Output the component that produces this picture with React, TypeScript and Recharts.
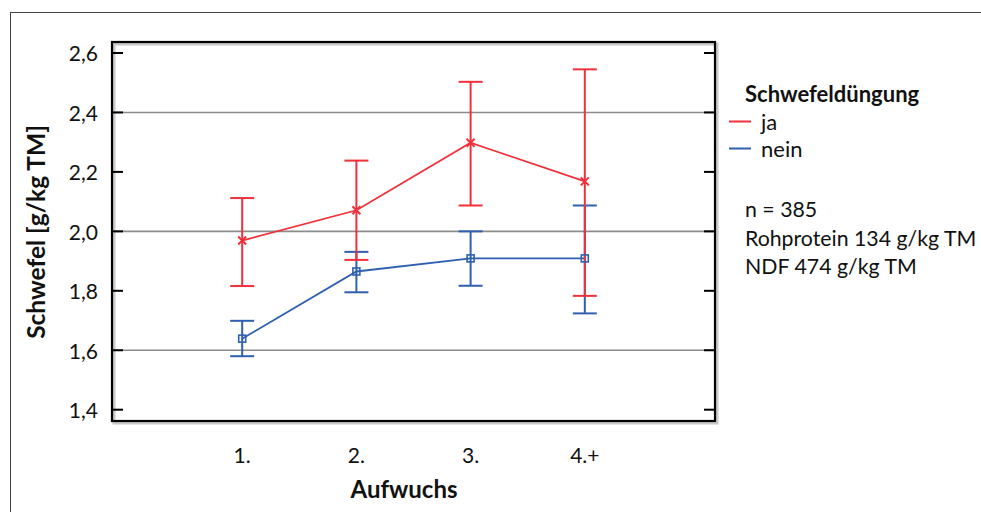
import { LineChart, Line, XAxis, YAxis, ErrorBar, ReferenceLine, ReferenceArea } from "recharts";

const categories = ["1.", "2.", "3.", "4.+"];
const jaMean = [1.969, 2.071, 2.298, 2.168];
const jaLow = [1.816, 1.904, 2.087, 1.783];
const jaHigh = [2.112, 2.238, 2.503, 2.545];
const neinMean = [1.639, 1.865, 1.909, 1.909];
const neinLow = [1.58, 1.795, 1.817, 1.724];
const neinHigh = [1.699, 1.931, 2.0, 2.087];
const yTicks = [1.4, 1.6, 1.8, 2.0, 2.2, 2.4, 2.6];
const gridValues = [1.6, 2.0, 2.4];
const infoLines = ["n = 385", "Rohprotein 134 g/kg TM", "NDF 474 g/kg TM"];

const Y_DOMAIN: [number, number] = [1.362, 2.637];
const X_DOMAIN: [number, number] = [-0.14, 5.14];
const RED = "#f0303a";
const BLUE = "#2f60b0";
const FONT = "Lato, 'Open Sans', sans-serif";

const data = categories.map((c, i) => ({
  x: i + 1,
  ja: jaMean[i],
  jaErr: [jaMean[i] - jaLow[i], jaHigh[i] - jaMean[i]],
  nein: neinMean[i],
  neinErr: [neinMean[i] - neinLow[i], neinHigh[i] - neinMean[i]],
}));

const fmt = (v: number) => v.toFixed(1).replace(".", ",");

// ticks point inward, labels sit 14px left of the frame
function LeftTick({ x, y, payload }: any) {
  return (
    <g>
      <line x1={x + 14} x2={x + 25} y1={y} y2={y} stroke="#000" strokeWidth={2} />
      <text x={x} y={y} textAnchor="end" dominantBaseline="central" fontSize={21} fontFamily={FONT} fill="#111">
        {fmt(payload.value)}
      </text>
    </g>
  );
}

function RightTick({ x, y }: any) {
  return <line x1={x} x2={x - 11} y1={y} y2={y} stroke="#000" strokeWidth={2} />;
}

function XTick({ x, y, payload }: any) {
  return (
    <text x={x} y={y} textAnchor="middle" dominantBaseline="central" fontSize={21} fontFamily={FONT} fill="#111">
      {categories[payload.value - 1]}
    </text>
  );
}

function CrossDot({ cx, cy }: any) {
  const s = 4;
  return (
    <path
      d={`M${cx - s},${cy - s}L${cx + s},${cy + s}M${cx - s},${cy + s}L${cx + s},${cy - s}`}
      stroke={RED}
      strokeWidth={2}
    />
  );
}

function SquareDot({ cx, cy }: any) {
  return <rect x={cx - 3.5} y={cy - 3.5} width={7} height={7} fill="none" stroke={BLUE} strokeWidth={1.6} />;
}

function Frame({ x, y, width, height }: any) {
  return (
    <g>
      <rect x={x + 2} y={y + 2} width={width} height={height} fill="none" stroke="#c8c8c8" strokeWidth={3} />
      <rect x={x} y={y} width={width} height={height} fill="none" stroke="#000" strokeWidth={2.2} />
    </g>
  );
}

export default function App() {
  return (
    <div style={{ position: "absolute", left: 0, top: 0, width: 981, height: 512, background: "#fff", fontFamily: FONT }}>
      <div style={{ position: "absolute", left: 10, top: 12, right: 0, bottom: 0, borderTop: "1.5px solid #444", borderLeft: "1.5px solid #444" }} />
      <LineChart width={981} height={512} data={data} margin={{ top: 42, right: 265, bottom: 90, left: 111 }} style={{ position: "absolute", left: 0, top: 0 }}>
        <XAxis
          dataKey="x"
          type="number"
          domain={X_DOMAIN}
          ticks={[1, 2, 3, 4]}
          height={1}
          axisLine={false}
          tickLine={false}
          tickSize={0}
          tickMargin={33}
          tick={<XTick />}
          allowDataOverflow
        />
        <YAxis
          yAxisId="left"
          type="number"
          domain={Y_DOMAIN}
          ticks={yTicks}
          width={1}
          axisLine={false}
          tickLine={false}
          tickSize={0}
          tickMargin={14}
          tick={<LeftTick />}
          allowDataOverflow
        />
        <YAxis
          yAxisId="right"
          orientation="right"
          type="number"
          domain={Y_DOMAIN}
          ticks={yTicks}
          width={1}
          axisLine={false}
          tickLine={false}
          tickSize={0}
          tickMargin={0}
          tick={<RightTick />}
          allowDataOverflow
        />
        {gridValues.map((v) => (
          <ReferenceLine key={v} yAxisId="left" y={v} stroke="#8c8c8c" strokeWidth={1.6} />
        ))}
        <Line
          yAxisId="left"
          dataKey="nein"
          stroke={BLUE}
          strokeWidth={1.8}
          dot={<SquareDot />}
          activeDot={false}
          isAnimationActive={false}
        >
          <ErrorBar dataKey="neinErr" direction="y" width={12} stroke={BLUE} strokeWidth={2} isAnimationActive={false} />
        </Line>
        <Line
          yAxisId="left"
          dataKey="ja"
          stroke={RED}
          strokeWidth={1.8}
          dot={<CrossDot />}
          activeDot={false}
          isAnimationActive={false}
        >
          <ErrorBar dataKey="jaErr" direction="y" width={12} stroke={RED} strokeWidth={2} isAnimationActive={false} />
        </Line>
        <ReferenceArea yAxisId="left" y1={Y_DOMAIN[0]} y2={Y_DOMAIN[1]} shape={<Frame />} />
      </LineChart>

      <div
        style={{
          position: "absolute",
          left: 35,
          top: 232,
          transform: "translate(-50%, -50%) rotate(-90deg)",
          fontSize: 24.5,
          fontWeight: 700,
          whiteSpace: "nowrap",
          color: "#111",
        }}
      >
        Schwefel [g/kg TM]
      </div>
      <div
        style={{
          position: "absolute",
          left: 404,
          top: 488,
          transform: "translate(-50%, -50%)",
          fontSize: 24,
          fontWeight: 700,
          whiteSpace: "nowrap",
          color: "#111",
        }}
      >
        Aufwuchs
      </div>

      <div style={{ position: "absolute", left: 745, top: 93, transform: "translateY(-50%)", fontSize: 22, fontWeight: 700, color: "#111", whiteSpace: "nowrap" }}>
        Schwefeldüngung
      </div>
      {[
        { label: "ja", color: RED, y: 121 },
        { label: "nein", color: BLUE, y: 148 },
      ].map((it) => (
        <div key={it.label} style={{ position: "absolute", left: 729, top: it.y, transform: "translateY(-50%)", display: "flex", alignItems: "center", fontSize: 22, color: "#111", whiteSpace: "nowrap" }}>
          <span style={{ display: "inline-block", width: 22, height: 2, background: it.color, marginRight: 10 }} />
          <span>{it.label}</span>
        </div>
      ))}
      {infoLines.map((t, i) => (
        <div key={t} style={{ position: "absolute", left: 745, top: 209 + i * 28.5, transform: "translateY(-50%)", fontSize: 21.3, color: "#111", whiteSpace: "nowrap" }}>
          {t}
        </div>
      ))}
    </div>
  );
}
